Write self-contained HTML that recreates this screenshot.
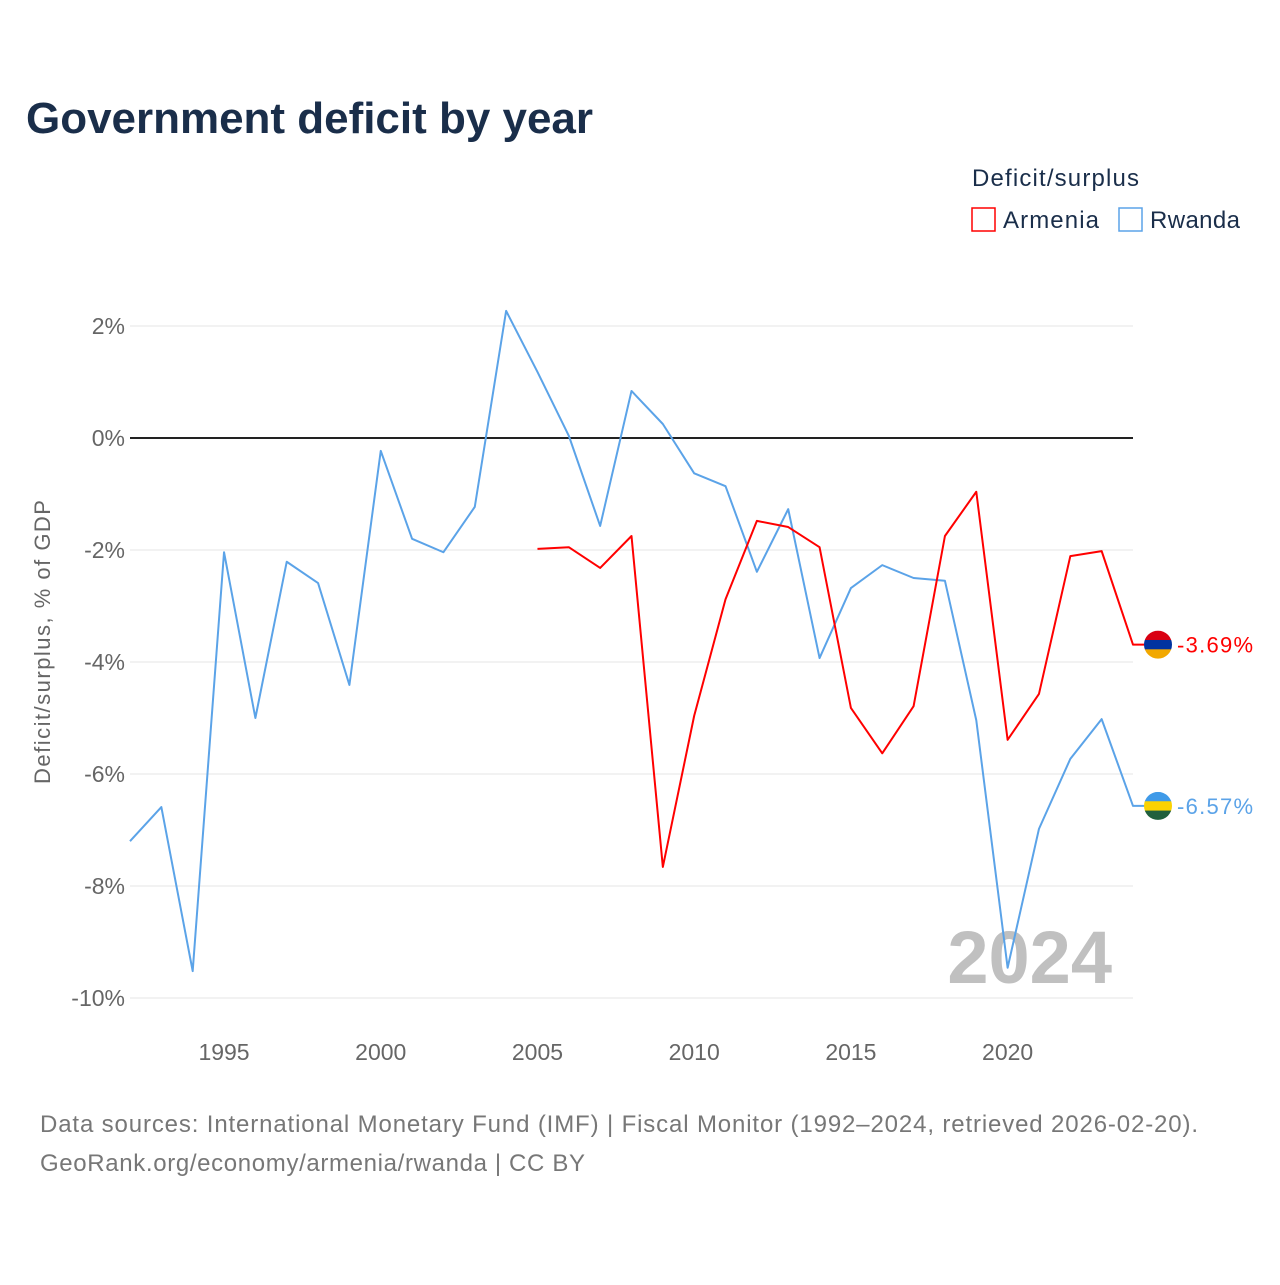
<!DOCTYPE html>
<html><head><meta charset="utf-8"><style>
body{margin:0;background:#fff;font-family:"Liberation Sans",sans-serif}
</style></head><body>
<svg width="1280" height="1280" xmlns="http://www.w3.org/2000/svg" id="chart" font-family="Liberation Sans, sans-serif">
<text x="26" y="133" font-size="44" font-weight="bold" fill="#1a2e4a" textLength="567">Government deficit by year</text>
<text x="972" y="186" font-size="24" fill="#1a2e4a" textLength="167">Deficit/surplus</text>
<rect x="972" y="208" width="23" height="23" fill="none" stroke="#ff0000" stroke-width="1.5"/>
<text x="1003" y="228" font-size="24" fill="#1a2e4a" textLength="96">Armenia</text>
<rect x="1119" y="208" width="23" height="23" fill="none" stroke="#5ba3e8" stroke-width="1.5"/>
<text x="1150" y="228" font-size="24" fill="#1a2e4a" textLength="90">Rwanda</text>
<text transform="translate(50,642) rotate(-90)" text-anchor="middle" font-size="22" fill="#666" textLength="284">Deficit/surplus, % of GDP</text>
<g id="grid"></g>
<text x="1112" y="983" text-anchor="end" font-size="74" font-weight="bold" fill="#c0c0c0">2024</text>
<g id="marks"></g>
<text x="40" y="1132" font-size="24" fill="#777" textLength="1158">Data sources: International Monetary Fund (IMF) | Fiscal Monitor (1992–2024, retrieved 2026-02-20).</text>
<text x="40" y="1171" font-size="24" fill="#777" textLength="545">GeoRank.org/economy/armenia/rwanda | CC BY</text>
</svg>
<script>
const yTicks=[2,0,-2,-4,-6,-8,-10];
const xTicks=[1995,2000,2005,2010,2015,2020];
const rwandaYears=[1992,1993,1994,1995,1996,1997,1998,1999,2000,2001,2002,2003,2004,2005,2006,2007,2008,2009,2010,2011,2012,2013,2014,2015,2016,2017,2018,2019,2020,2021,2022,2023,2024];
const rwandaValues=[-7.2,-6.59,-9.52,-2.04,-5.0,-2.21,-2.59,-4.41,-0.23,-1.80,-2.04,-1.23,2.27,1.18,0.04,-1.57,0.84,0.25,-0.63,-0.86,-2.39,-1.27,-3.93,-2.68,-2.27,-2.5,-2.55,-5.04,-9.46,-6.98,-5.73,-5.02,-6.57];
const armeniaYears=[2005,2006,2007,2008,2009,2010,2011,2012,2013,2014,2015,2016,2017,2018,2019,2020,2021,2022,2023,2024];
const armeniaValues=[-1.98,-1.95,-2.32,-1.75,-7.66,-4.96,-2.88,-1.48,-1.59,-1.95,-4.82,-5.63,-4.79,-1.75,-0.96,-5.39,-4.57,-2.11,-2.02,-3.69];
const NS="http://www.w3.org/2000/svg";
const X=y=>130+(y-1992)*(1003/32);
const Y=v=>438-v*56;
function mk(t,a,p){const e=document.createElementNS(NS,t);for(const k in a)e.setAttribute(k,a[k]);p.appendChild(e);return e;}
const g=document.getElementById('grid'),m=document.getElementById('marks');
yTicks.forEach(v=>{
 const l=mk('line',{x1:130,x2:1133,y1:Y(v),y2:Y(v),stroke:v===0?'#222':'#e6e6e6','stroke-width':v===0?2:1},g);
 
 
 const t=mk('text',{x:125,y:Y(v)+8,'text-anchor':'end','font-size':23,fill:'#666'},g);
 t.textContent=v+'%';
 
 
});
xTicks.forEach(y=>{
 const t=mk('text',{x:X(y),y:1060,'text-anchor':'middle','font-size':23,fill:'#666'},g);
 t.textContent=y;
 
 
});
function series(years,vals,color,name){
 const pts=years.map((y,i)=>X(y)+','+Y(vals[i]));
 const last=vals[vals.length-1];
 pts.push('1146,'+Y(last));
 const p=mk('polyline',{points:pts.join(' '),fill:'none',stroke:color,'stroke-width':2,'stroke-linejoin':'round'},m);
 
 
 const cy=Y(last);
 const f=mk('g',{},m);
 
 
 const cols=name==='armenia'?['#d90012','#0033a0','#f2a800']:['#3f9ae8','#fad201','#20603d'];
 const cid='clip'+name;
 const cp=mk('clipPath',{id:cid},f);mk('circle',{cx:1158,cy:cy,r:14},cp);
 cols.forEach((c,i)=>mk('rect',{x:1144,y:cy-14+i*28/3,width:28,height:28/3+0.5,fill:c,'clip-path':'url(#'+cid+')'},f));
 const t=mk('text',{x:1177,y:cy+8,'font-size':22,fill:color,textLength:76},m);
 t.textContent=last.toFixed(2)+'%';
 
 
}
series(rwandaYears,rwandaValues,'#5ba3e8','rwanda');
series(armeniaYears,armeniaValues,'#ff0000','armenia');
</script>
</body></html>
